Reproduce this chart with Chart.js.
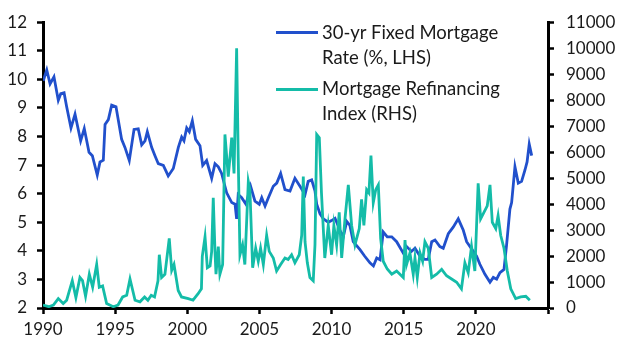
<!DOCTYPE html>
<html>
<head>
<meta charset="utf-8">
<script src="https://cdn.jsdelivr.net/npm/chart.js@4.4.0/dist/chart.umd.min.js"></script>
<style>
  html, body { margin: 0; padding: 0; background: #fff; }
  #wrap { position: relative; width: 632px; height: 356px; }
  canvas { position: absolute; left: 0; top: 0; }
  .leg { position: absolute; font-family: Lato, "Open Sans", sans-serif; font-size: 18.5px; color: #1a1a1a; line-height: 25px; white-space: nowrap; }
  .mark { position: absolute; height: 3px; width: 42px; }
</style>
</head>
<body>
<div id="wrap">
  <canvas id="c" width="632" height="356"></canvas>
  <div class="mark" style="left:276px; top:31px; background:#2150CC;"></div>
  <div class="leg" style="left:322px; top:20px;">30-yr Fixed Mortgage<br>Rate (%, LHS)</div>
  <div class="mark" style="left:276px; top:88px; background:#14BCA8;"></div>
  <div class="leg" style="left:322px; top:76px;">Mortgage Refinancing<br>Index (RHS)</div>
</div>
<script>
const seriesNames = ["30-yr Fixed Mortgage Rate (%, LHS)", "Mortgage Refinancing Index (RHS)"];
const xTicks = [1990, 1995, 2000, 2005, 2010, 2015, 2020];

const rateYears = [1990.02,1990.26,1990.49,1990.76,1991.06,1991.23,1991.46,1991.64,1991.94,1992.22,1992.61,1992.86,1993.19,1993.42,1993.76,1993.95,1994.18,1994.30,1994.53,1994.76,1995.06,1995.45,1995.68,1995.98,1996.31,1996.6,1996.84,1997.07,1997.23,1997.53,1997.76,1997.99,1998.34,1998.68,1999.03,1999.38,1999.61,1999.77,1999.96,2000.14,2000.35,2000.58,2000.88,2001.07,2001.34,2001.69,2001.92,2002.15,2002.38,2002.61,2002.73,2003.08,2003.31,2003.42,2003.53,2003.77,2004.07,2004.39,2004.69,2004.99,2005.16,2005.39,2005.62,2005.96,2006.2,2006.47,2006.77,2007.12,2007.46,2007.81,2008.16,2008.38,2008.62,2008.85,2008.97,2009.2,2009.43,2009.77,2010.0,2010.24,2010.58,2010.81,2011.05,2011.27,2011.5,2011.97,2012.3,2012.66,2012.9,2013.13,2013.36,2013.58,2013.86,2014.17,2014.51,2014.97,2015.2,2015.54,2015.78,2016.13,2016.47,2016.7,2016.94,2017.17,2017.51,2017.74,2018.09,2018.43,2018.78,2019.13,2019.36,2019.59,2019.82,2020.05,2020.28,2020.63,2020.98,2021.21,2021.44,2021.67,2021.95,2022.13,2022.36,2022.48,2022.71,2022.94,2023.17,2023.4,2023.55,2023.7,2023.87];
const rateValues = [9.95,10.33,9.84,10.09,9.27,9.5,9.53,9.04,8.30,8.78,7.85,8.28,7.45,7.33,6.65,7.11,7.17,8.42,8.59,9.10,9.04,7.90,7.62,7.16,8.25,8.27,7.71,7.85,8.17,7.62,7.33,7.05,6.99,6.62,6.88,7.62,7.98,7.85,8.30,8.17,8.55,7.90,7.68,6.99,7.16,6.54,7.05,6.94,6.71,6.26,6.03,5.69,5.63,5.12,5.97,5.86,5.63,6.26,5.74,5.63,5.86,5.57,5.86,6.26,6.37,6.71,6.14,6.09,6.54,6.26,5.97,6.43,6.48,6.1,5.63,5.29,5.12,5.00,5.06,5.14,4.72,4.49,5.03,4.89,4.32,4.04,3.81,3.58,3.47,3.75,3.69,4.66,4.49,4.49,4.32,3.92,4.15,3.98,4.09,3.81,3.70,3.70,4.32,4.38,4.15,4.09,4.60,4.83,5.12,4.72,4.32,4.15,3.98,3.81,3.53,3.18,2.90,3.07,3.01,3.24,3.35,4.21,5.46,5.69,6.94,6.37,6.43,6.82,7.11,7.73,7.33];

const refiYears = [1990.0,1990.4,1990.72,1991.06,1991.4,1991.64,1992.03,1992.28,1992.56,1992.74,1992.95,1993.21,1993.44,1993.72,1993.9,1994.13,1994.41,1994.87,1995.2,1995.52,1995.8,1996.03,1996.38,1996.72,1997.04,1997.27,1997.5,1997.73,1997.97,1998.06,1998.22,1998.45,1998.75,1998.92,1999.08,1999.37,1999.6,2000.07,2000.4,2000.75,2000.98,2001.04,2001.23,2001.39,2001.58,2001.69,2001.8,2001.92,2001.99,2002.15,2002.26,2002.45,2002.61,2002.84,2003.08,2003.24,2003.42,2003.53,2003.65,2003.83,2003.99,2004.23,2004.34,2004.53,2004.74,2004.92,2005.08,2005.27,2005.5,2005.68,2005.96,2006.19,2006.47,2006.77,2006.99,2007.23,2007.46,2007.76,2007.93,2008.04,2008.16,2008.32,2008.5,2008.73,2008.85,2008.97,2009.15,2009.3,2009.53,2009.77,2010.0,2010.16,2010.35,2010.53,2010.7,2010.93,2011.16,2011.39,2011.62,2011.92,2012.08,2012.24,2012.43,2012.59,2012.73,2012.89,2013.06,2013.24,2013.4,2013.58,2013.86,2014.17,2014.51,2014.74,2014.97,2015.09,2015.2,2015.43,2015.66,2015.78,2015.94,2016.13,2016.31,2016.47,2016.7,2016.94,2017.28,2017.63,2017.97,2018.32,2018.67,2019.0,2019.24,2019.47,2019.7,2019.93,2020.16,2020.33,2020.56,2020.79,2020.98,2021.14,2021.38,2021.54,2021.72,2021.95,2022.18,2022.42,2022.76,2023.11,2023.46,2023.74];
const refiValues = [113,50,113,363,175,300,1050,400,1175,1050,450,1300,800,1675,800,850,175,50,113,425,488,1115,300,238,425,300,488,425,1050,2050,1175,1300,2680,1450,1675,675,425,363,300,550,740,1990,2740,1550,1615,2180,4240,2180,1300,2365,1300,1675,6680,5055,6555,5180,10000,5800,2050,2430,1675,4870,4555,1550,2300,1800,2300,1675,2800,2180,1925,1425,1675,1925,1865,2050,1740,2050,2800,5055,2550,1740,1175,1050,2430,6680,6555,4430,1925,3180,2050,3180,2430,3680,1925,3430,4740,3180,2430,3055,4180,3180,4555,4430,5870,4055,4555,4740,2680,1800,1500,1300,1425,1300,1175,2615,1675,2115,1300,1925,1175,2115,1800,2550,2300,1175,1300,1490,1240,1115,990,740,1740,1360,2365,1425,4800,3430,3680,3930,4740,3300,3055,3555,2800,2300,1425,740,363,425,450,300];

const ratePts = rateYears.map((x, i) => ({ x: x, y: rateValues[i] }));
const refiPts = refiYears.map((x, i) => ({ x: x, y: refiValues[i] }));

new Chart(document.getElementById('c'), {
  type: 'line',
  data: {
    datasets: [
      { label: seriesNames[0], data: ratePts, yAxisID: 'y', borderColor: '#2150CC', borderWidth: 2.8, pointRadius: 0, tension: 0, order: 2 },
      { label: seriesNames[1], data: refiPts, yAxisID: 'y1', borderColor: '#14BCA8', borderWidth: 2.8, pointRadius: 0, tension: 0, order: 1 }
    ]
  },
  options: {
    responsive: false,
    animation: false,
    layout: { padding: { top: 15, left: 0, right: 0, bottom: 0 } },
    plugins: { legend: { display: false }, tooltip: { enabled: false } },
    scales: {
      x: {
        type: 'linear', min: 1990, max: 2025,
        afterBuildTicks: (s) => { s.ticks = xTicks.concat([2025]).map(v => ({ value: v })); },
        afterFit: (s) => { s.height = 48; },
        ticks: { callback: (v) => (xTicks.includes(v) ? String(v) : ''), color: '#1a1a1a', font: { family: 'Lato', size: 17 }, padding: 5, maxRotation: 0, autoSkip: false },
        grid: { drawOnChartArea: false, drawTicks: true, tickLength: 6, tickWidth: 2.5, tickColor: '#000' },
        border: { display: true, color: '#000', width: 3 }
      },
      y: {
        position: 'left', min: 2, max: 12,
        afterFit: (s) => { s.width = 43; },
        ticks: { stepSize: 1, color: '#1a1a1a', font: { family: 'Lato', size: 17 }, padding: 10 },
        grid: { drawOnChartArea: false, drawTicks: true, tickLength: 6, tickWidth: 2.5, tickColor: '#000' },
        border: { display: true, color: '#000', width: 3 }
      },
      y1: {
        position: 'right', min: 0, max: 11000,
        afterFit: (s) => { s.width = 84; },
        ticks: { stepSize: 1000, color: '#1a1a1a', font: { family: 'Lato', size: 17 }, padding: 12, callback: (v) => String(v) },
        grid: { drawOnChartArea: false, drawTicks: true, tickLength: 6, tickWidth: 2.5, tickColor: '#000' },
        border: { display: true, color: '#000', width: 3 }
      }
    }
  }
});
</script>
</body>
</html>
